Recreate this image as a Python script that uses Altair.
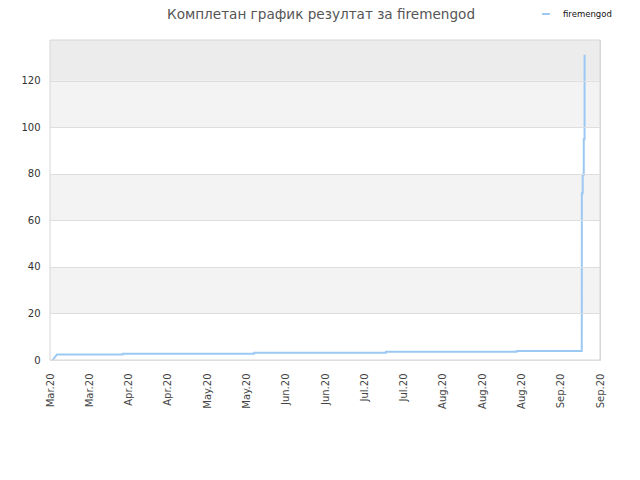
import altair as alt
import pandas as pd

# ---- data ----
times = [
    "2020-03-15T23:00", "2020-03-16T18:00", "2020-03-17T12:00",
    "2020-04-09T22:00", "2020-04-09T23:00",
    "2020-05-26T17:00", "2020-05-26T18:00",
    "2020-07-12T17:00", "2020-07-12T18:00",
    "2020-08-28T07:00", "2020-08-28T08:00",
    "2020-09-20T12:00", "2020-09-20T12:05", "2020-09-20T12:10", "2020-09-20T12:15",
    "2020-09-20T12:20", "2020-09-20T12:25", "2020-09-20T12:30", "2020-09-20T12:35",
    "2020-09-20T12:40", "2020-09-20T12:45", "2020-09-20T12:50",
    "2020-09-20T20:00", "2020-09-20T20:05",
    "2020-09-21T05:00", "2020-09-21T05:05", "2020-09-21T05:10",
    "2020-09-21T12:00", "2020-09-21T12:05", "2020-09-21T12:10",
]
values = [
    0.0, 1.2, 2.4,
    2.4, 2.7,
    2.7, 3.1,
    3.1, 3.6,
    3.6, 3.9,
    3.9, 7.9, 10.0, 12.2,
    15.8, 18.6, 28.0, 37.7,
    48.7, 67.8, 71.7,
    71.7, 79.6,
    79.6, 83.0, 94.9,
    94.9, 106.1, 131.2,
]
player = "firemengod"
title_text = "Комплетан график резултат за firemengod"

tick_dates = [
    (2020, 3, 15), (2020, 3, 29), (2020, 4, 12), (2020, 4, 26), (2020, 5, 10),
    (2020, 5, 24), (2020, 6, 7), (2020, 6, 21), (2020, 7, 5), (2020, 7, 19),
    (2020, 8, 2), (2020, 8, 16), (2020, 8, 30), (2020, 9, 13), (2020, 9, 27),
]
y_ticks = [0, 20, 40, 60, 80, 100, 120]
y_max = 137.55

# ---- styling ----
line_color = "#9cc9f4"
band_fills = ["#ffffff", "#f3f3f3", "#ffffff", "#f3f3f3", "#ffffff", "#f3f3f3", "#ececec"]
FONT = "DejaVu Sans"

df = pd.DataFrame({"t": times, "v": values, "s": [player] * len(times)})

edges = y_ticks + [y_max]
bands = pd.DataFrame({
    "y0": edges[:-1],
    "y1": edges[1:],
    "fill": band_fills,
})
title_df = pd.DataFrame({"label": [title_text]})

x_scale = alt.Scale(domain=[alt.DateTime(year=2020, month=3, date=15),
                            alt.DateTime(year=2020, month=9, date=27)])
y_scale = alt.Scale(domain=[0, y_max], nice=False)

band_layer = alt.Chart(bands).mark_rect().encode(
    x=alt.value(0),
    x2=alt.value(550),
    y=alt.Y("y0:Q", scale=y_scale,
            axis=alt.Axis(values=y_ticks, title=None, grid=True, gridColor="#dedede",
                          domain=False, ticks=False, labelPadding=10, zindex=1,
                          labelFontSize=10)),
    y2="y1:Q",
    fill=alt.Fill("fill:N", scale=None),
)

border_layer = alt.Chart(title_df).mark_rect(fill=None, stroke="#d6d6d6", strokeWidth=1).encode(
    x=alt.value(0), x2=alt.value(550), y=alt.value(0), y2=alt.value(320),
)

title_layer = alt.Chart(title_df).mark_text(
    font=FONT, fontSize=13.6, color="#555555", align="center", baseline="alphabetic"
).encode(
    x=alt.value(271), y=alt.value(-21), text="label:N",
)

line_layer = alt.Chart(df).mark_line(strokeWidth=2, interpolate="linear").encode(
    x=alt.X("t:T", scale=x_scale,
            axis=alt.Axis(values=[alt.DateTime(year=y, month=m, date=d) for (y, m, d) in tick_dates],
                          format="%b.%y", labelAngle=270, title=None, grid=False,
                          domain=False, ticks=False, labelPadding=13,
                          labelAlign="right", labelBaseline="middle",
                          labelFontSize=10, labelColor="#444444")),
    y=alt.Y("v:Q", scale=y_scale),
    color=alt.Color("s:N", scale=alt.Scale(domain=[player], range=[line_color]),
                    legend=alt.Legend(title=None, orient="none", legendX=491, legendY=-31,
                                      symbolType="stroke", symbolStrokeWidth=2,
                                      symbolSize=60, labelFontSize=8.5, labelColor="#111",
                                      labelFont=FONT, labelOffset=12)),
)

chart = alt.layer(band_layer, line_layer, border_layer, title_layer).properties(
    width=550,
    height=320,
    autosize=alt.AutoSizeParams(type="none"),
    padding={"left": 42, "top": 32, "right": 32, "bottom": 110},
).configure_view(
    stroke="#d6d6d6", strokeWidth=1
).configure_axis(
    labelFont=FONT, labelColor="#333333"
)

chart.save("out.html", embed_options={"renderer": "svg", "actions": False})
